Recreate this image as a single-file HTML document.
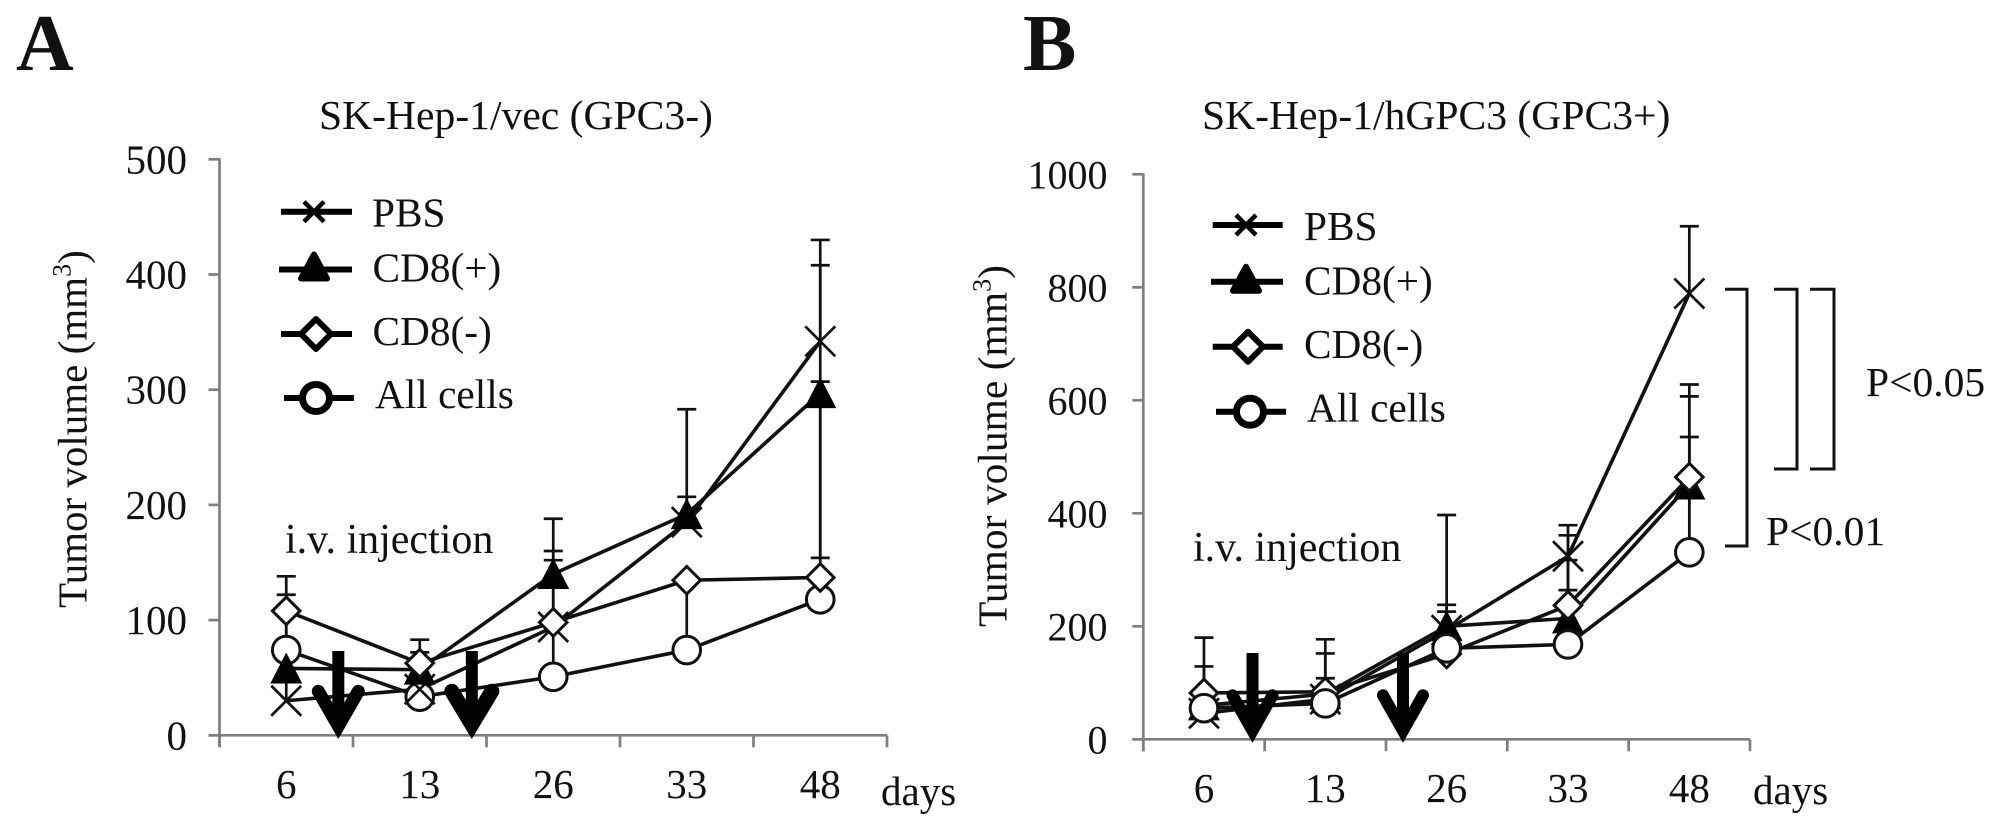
<!DOCTYPE html>
<html lang="en">
<head>
<meta charset="utf-8">
<title>Tumor volume charts</title>
<style>
html,body{margin:0;padding:0;background:#fff;}
svg{display:block;}
text{font-family:"Liberation Serif",serif;fill:#111;}
</style>
</head>
<body>
<svg id="figure" xmlns="http://www.w3.org/2000/svg" width="2008" height="827" viewBox="0 0 2008 827">
<rect width="2008" height="827" fill="#fff"/>
<text x="16" y="70" font-size="80" font-weight="bold">A</text>
<text x="1023" y="70" font-size="80" font-weight="bold">B</text>
<text x="319" y="129" font-size="41.6">SK-Hep-1/vec (GPC3-)</text>
<text x="1202" y="129" font-size="41.6">SK-Hep-1/hGPC3 (GPC3+)</text>
<text transform="translate(86.7,608) rotate(-90)" font-size="41">Tumor volume (mm<tspan font-size="26" dy="-16">3</tspan><tspan dy="16">)</tspan></text>
<text transform="translate(1006.7,627) rotate(-90)" font-size="41.5">Tumor volume (mm<tspan font-size="26" dy="-16">3</tspan><tspan dy="16">)</tspan></text>
<text x="285" y="553" font-size="42">i.v. injection</text>
<text x="1193" y="561" font-size="42">i.v. injection</text>
<text x="881" y="805" font-size="41">days</text>
<text x="1753" y="804" font-size="41">days</text>
<g fill="none" stroke="#111" stroke-width="3">
<path d="M1725 289.3H1747V546H1725"/>
<path d="M1774 289.3H1797V469H1774"/>
<path d="M1810 289.3H1834V469H1810"/>
</g>
<text x="1866" y="396" font-size="41.5">P&lt;0.05</text>
<text x="1766" y="545" font-size="41.5">P&lt;0.01</text>
</svg>
<script>
const categories = ["6", "13", "26", "33", "48"];
const seriesNames = ["PBS", "CD8(+)", "CD8(-)", "All cells"];
const yTicksA = [0, 100, 200, 300, 400, 500];
const yTicksB = [0, 200, 400, 600, 800, 1000];

const pbsA = [30, 40, 94, 185, 342];
const cd8PosA = [58, 57, 140, 192, 297];
const cd8NegA = [108, 62.6, 98, 134.6, 137];
const allCellsA = [74, 33.5, 50.8, 74, 118];
const pbsHighA = [122, 72, 160, 207, 430];
const cd8PosHighA = [null, null, 188, 283, 408];
const cd8NegHighA = [138, 83, 152, null, 307];
const cd8PosLowA = [null, null, null, null, 154];
const cd8NegLowA = [80, null, 56, 80, null];
const injectionsA = [0.39, 1.39];

const pbsB = [46, 71, 193, 324, 789];
const cd8PosB = [60, 80, 200, 214, 451];
const cd8NegB = [82, 84, 151, 237, 464];
const allCellsB = [55, 63.6, 161, 168, 331];
const pbsHighB = [129, 108, 226, 361, 908];
const cd8PosHighB = [null, null, 238, 379, 607];
const cd8NegHighB = [180, 177, 397, 264, 628];
const allCellsHighB = [null, 152, null, 317, 535];
const cd8PosLowB = [null, null, null, null, 345];
const injectionsB = [0.40, 1.64];

const NS = "http://www.w3.org/2000/svg";
const figure = document.getElementById("figure");
const empty = [null, null, null, null, null];

function node(parent, tag, attrs, name) {
  const el = document.createElementNS(NS, tag);
  for (const k in attrs) el.setAttribute(k, attrs[k]);
  
  
  parent.appendChild(el);
  return el;
}

function marker(parent, kind, x, y, name) {
  if (kind === "x") {
    const d = 15;
    return node(parent, "path", {d: `M${x-d} ${y-d}L${x+d} ${y+d}M${x+d} ${y-d}L${x-d} ${y+d}`, fill: "none", stroke: "#111", "stroke-width": 2.7}, name);
  }
  if (kind === "tri") {
    return node(parent, "path", {d: `M${x} ${y-16}L${x+16} ${y+15}H${x-16}Z`, fill: "#000"}, name);
  }
  if (kind === "dia") {
    const d = 13.8;
    return node(parent, "path", {d: `M${x} ${y-d}L${x+d} ${y}L${x} ${y+d}L${x-d} ${y}Z`, fill: "#fff", stroke: "#111", "stroke-width": 3}, name);
  }
  return node(parent, "circle", {cx: x, cy: y, r: 13.8, fill: "#fff", stroke: "#111", "stroke-width": 3}, name);
}

function legendMarker(parent, kind, x, y, name) {
  if (kind === "x") {
    const d = 10;
    return node(parent, "path", {d: `M${x-d} ${y-d}L${x+d} ${y+d}M${x+d} ${y-d}L${x-d} ${y+d}`, fill: "none", stroke: "#000", "stroke-width": 4.5}, name);
  }
  if (kind === "tri") {
    return node(parent, "path", {d: `M${x} ${y-15}L${x+13} ${y+9}H${x-13}Z`, fill: "#000", stroke: "#000", "stroke-width": 6, "stroke-linejoin": "round"}, name);
  }
  if (kind === "dia") {
    return node(parent, "path", {d: `M${x} ${y-15}L${x+15} ${y}L${x} ${y+15}L${x-15} ${y}Z`, fill: "#fff", stroke: "#000", "stroke-width": 6, "stroke-linejoin": "round"}, name);
  }
  return node(parent, "circle", {cx: x, cy: y, r: 13.5, fill: "#fff", stroke: "#000", "stroke-width": 7}, name);
}

function drawPanel(p) {
  const g = node(figure, "g", {}, `panel-${p.id}`);
  const n = categories.length;
  const step = (p.right - p.left) / n;
  const xScale = i => p.left + step * (i + 0.5);
  const yScale = v => p.bottom - (v / p.yMax) * (p.bottom - p.top);

  const axes = node(g, "g", {stroke: "#7f7f7f", "stroke-width": 2.7, fill: "none"}, `panel-${p.id}-axes`);
  node(axes, "line", {x1: p.left, x2: p.left, y1: p.top - 1, y2: p.bottom + 12}, `panel-${p.id}-y-axis`);
  node(axes, "line", {x1: p.left - 11, x2: p.right, y1: p.bottom, y2: p.bottom}, `panel-${p.id}-x-axis`);
  p.yTicks.forEach(t => {
    const y = yScale(t);
    node(axes, "line", {x1: p.left - 11, x2: p.left, y1: y, y2: y}, `panel-${p.id}-y-tick`);
    const lab = node(g, "text", {x: p.yLabelRight, y: y + 14, "font-size": p.yFont, "text-anchor": "end"}, `panel-${p.id}-y-tick-label`);
    lab.textContent = t;
  });
  for (let i = 0; i <= n; i++) {
    const x = p.left + step * i;
    node(axes, "line", {x1: x, x2: x, y1: p.bottom, y2: p.bottom + 12}, `panel-${p.id}-x-tick`);
  }
  categories.forEach((c, i) => {
    const lab = node(g, "text", {x: xScale(i), y: p.xLabelY, "font-size": 41, "text-anchor": "middle"}, `panel-${p.id}-x-tick-label`);
    lab.textContent = c;
  });

  const errs = node(g, "g", {stroke: "#111", "stroke-width": 2.7, fill: "none"}, `panel-${p.id}-error-bars`);
  p.series.forEach(s => {
    s.values.forEach((v, i) => {
      const x = xScale(i);
      [s.high[i], s.low[i]].forEach(e => {
        if (e === null) return;
        node(errs, "line", {x1: x, x2: x, y1: yScale(v), y2: yScale(e)}, `${s.slug}-error-stem`);
        node(errs, "line", {x1: x - 9.5, x2: x + 9.5, y1: yScale(e), y2: yScale(e)}, `${s.slug}-error-cap`);
      });
    });
  });

  const lines = node(g, "g", {fill: "none", stroke: "#111", "stroke-width": 3.6, "stroke-linejoin": "round"}, `panel-${p.id}-lines`);
  p.series.forEach(s => {
    const pts = s.values.map((v, i) => `${xScale(i)},${yScale(v)}`).join(" ");
    node(lines, "polyline", {points: pts}, `${s.slug}-line`);
  });

  const marks = node(g, "g", {}, `panel-${p.id}-markers`);
  p.order.forEach(k => {
    const s = p.series[k];
    s.values.forEach((v, i) => marker(marks, s.kind, xScale(i), yScale(v), `${s.slug}-point`));
  });

  p.injections.forEach((pos, k) => {
    const x = xScale(pos);
    const a = node(g, "g", {}, `panel-${p.id}-injection-arrow`);
    node(a, "rect", {x: x - 6, y: p.arrowTop, width: 12, height: p.bottom - p.arrowTop - 14}, `panel-${p.id}-arrow-shaft`);
    const w = p.arrowWidths[k];
    const vy = p.bottom - w * 0.72;
    node(a, "path", {d: `M${x - 20} ${p.bottom - 44}L${x} ${vy}L${x + 20} ${p.bottom - 44}`, fill: "none", stroke: "#000", "stroke-width": w, "stroke-linecap": "round", "stroke-miterlimit": 10}, `panel-${p.id}-arrow-head`);
  });

  const leg = node(g, "g", {}, `panel-${p.id}-legend`);
  p.legend.forEach((e, i) => {
    const item = node(leg, "g", {}, "legend-entry");
    node(item, "line", {x1: e.x1, x2: e.x2, y1: e.y, y2: e.y, stroke: "#000", "stroke-width": 6}, "legend-line");
    legendMarker(item, p.series[i].kind, e.mx, e.y, "legend-marker");
    const t = node(item, "text", {x: e.tx, y: e.ty, "font-size": 41.3}, "legend-label");
    t.textContent = seriesNames[i];
  });
}

drawPanel({
  id: "a", left: 219.5, right: 887, top: 159.3, bottom: 735.3, yMax: 500, yTicks: yTicksA,
  yLabelRight: 187, yFont: 41, xLabelY: 798, injections: injectionsA, arrowTop: 651, arrowWidths: [13, 15],
  order: [3, 0, 1, 2],
  series: [
    {slug: "a-pbs", kind: "x", values: pbsA, high: pbsHighA, low: empty},
    {slug: "a-cd8-positive", kind: "tri", values: cd8PosA, high: cd8PosHighA, low: cd8PosLowA},
    {slug: "a-cd8-negative", kind: "dia", values: cd8NegA, high: cd8NegHighA, low: cd8NegLowA},
    {slug: "a-all-cells", kind: "circle", values: allCellsA, high: empty, low: empty}
  ],
  legend: [
    {x1: 281, x2: 352, y: 211.7, mx: 314, tx: 372, ty: 226.7},
    {x1: 279, x2: 352, y: 269.5, mx: 314, tx: 372.5, ty: 281.7},
    {x1: 281, x2: 352, y: 334, mx: 316, tx: 372.5, ty: 345},
    {x1: 284, x2: 354, y: 398, mx: 316, tx: 375, ty: 408}
  ]
});

drawPanel({
  id: "b", left: 1143.3, right: 1750, top: 174.3, bottom: 739.3, yMax: 1000, yTicks: yTicksB,
  yLabelRight: 1107.5, yFont: 40, xLabelY: 802, injections: injectionsB, arrowTop: 653, arrowWidths: [12, 12],
  order: [0, 1, 2, 3],
  series: [
    {slug: "b-pbs", kind: "x", values: pbsB, high: pbsHighB, low: empty},
    {slug: "b-cd8-positive", kind: "tri", values: cd8PosB, high: cd8PosHighB, low: cd8PosLowB},
    {slug: "b-cd8-negative", kind: "dia", values: cd8NegB, high: cd8NegHighB, low: empty},
    {slug: "b-all-cells", kind: "circle", values: allCellsB, high: allCellsHighB, low: empty}
  ],
  legend: [
    {x1: 1212.7, x2: 1282.7, y: 225, mx: 1246, tx: 1304, ty: 240},
    {x1: 1211, x2: 1283, y: 281.7, mx: 1246, tx: 1304, ty: 294.3},
    {x1: 1212.7, x2: 1282.7, y: 346.7, mx: 1248, tx: 1304, ty: 358},
    {x1: 1216, x2: 1286, y: 411.7, mx: 1250, tx: 1307, ty: 421.7}
  ]
});
</script>
</body>
</html>
